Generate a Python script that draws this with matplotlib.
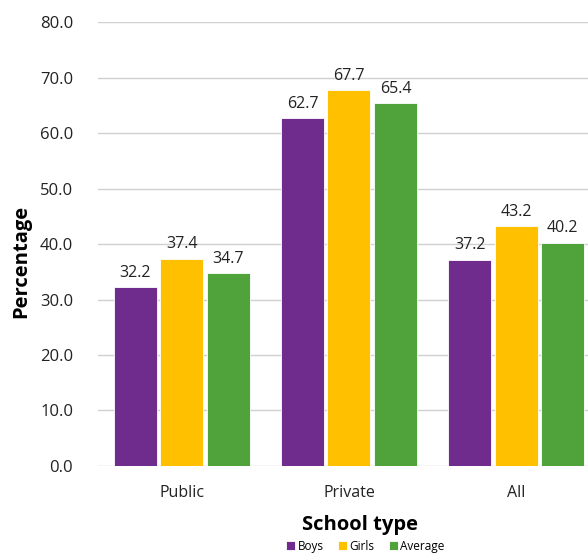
import matplotlib
matplotlib.use("Agg")
import matplotlib.pyplot as plt
import numpy as np

plt.rcParams['font.family'] = ['Open Sans', 'DejaVu Sans']

categories = ["Public", "Private", "All"]
series_names = ["Boys", "Girls", "Average"]
boys = [32.2, 62.7, 37.2]
girls = [37.4, 67.7, 43.2]
average = [34.7, 65.4, 40.2]
colors = ["#6F2C8C", "#FFC000", "#50A23A"]
y_ticks = [0, 10, 20, 30, 40, 50, 60, 70, 80]

fig = plt.figure(figsize=(5.88, 5.56), dpi=100)
ax = fig.add_axes([0.167, 0.162, 0.833, 0.798])

x = np.arange(len(categories))
step = 0.278
width = 0.257
for i, (vals, name, col) in enumerate(zip([boys, girls, average], series_names, colors)):
    pos = x + (i - 1) * step
    bars = ax.bar(pos, vals, width=width, color=col, label=name, zorder=3,
                  edgecolor="white", linewidth=0.6)
    for b, v in zip(bars, vals):
        ax.text(b.get_x() + b.get_width() / 2, v + 1.2, f"{v:.1f}",
                ha="center", va="bottom", fontsize=11.5, color="#222222")

ax.set_ylim(0, 80)
ax.set_xlim(-0.5, 2.43)
ax.set_yticks(y_ticks)
ax.set_yticklabels([f"{t:.1f}" for t in y_ticks], fontsize=12, color="#222222")
ax.set_xticks(x)
ax.set_xticklabels(categories, fontsize=11.5, color="#222222")
ax.grid(axis="y", color="#D0D0D0", linewidth=1.0, zorder=0)
ax.tick_params(axis="x", length=0, pad=14)
ax.tick_params(axis="y", length=0, pad=18)
for s in ax.spines.values():
    s.set_visible(False)

ax.set_ylabel("Percentage", fontsize=14.5, fontweight="bold", labelpad=6, y=0.46)
ax.set_xlabel("School type", fontsize=14.5, fontweight="bold", labelpad=10, x=0.535)

ax.legend(loc="upper center", bbox_to_anchor=(0.545, -0.15), ncol=3, frameon=False,
          fontsize=8.5, handlelength=0.8, handleheight=0.8, handletextpad=0.2,
          columnspacing=1.2, borderaxespad=0.2)

fig.savefig("out.png", dpi=100)
